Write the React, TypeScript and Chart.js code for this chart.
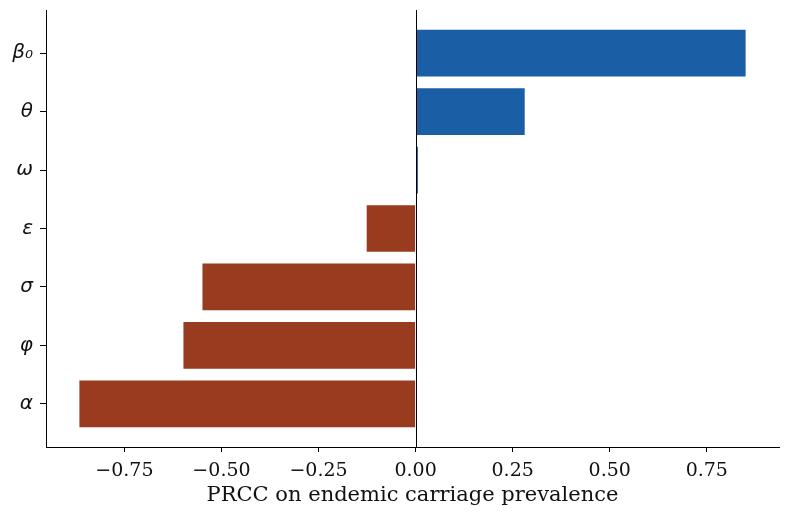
import { Chart, registerables } from "chart.js";
import React, { useRef, useEffect } from "react";

Chart.register(...registerables);

// parameter labels, top to bottom
const paramLabels = ["β₀", "θ", "ω", "ε", "σ", "φ", "α"];
// PRCC values
const prccValues = [0.85, 0.281, 0.006, -0.126, -0.549, -0.598, -0.866];
const xTicks = [-0.75, -0.5, -0.25, 0, 0.25, 0.5, 0.75];

const posColor = "#1a5fa5";
const negColor = "#983b1e";

const fmt = (v: number) => (v < 0 ? "\u2212" + Math.abs(v).toFixed(2) : v.toFixed(2));

// axvline at x = 0
const zeroLine = {
    id: "zeroLine",
    afterDatasetsDraw(chart: Chart) {
        const { ctx, chartArea, scales } = chart;
        const x = Math.round(scales.x.getPixelForValue(0)) + 0.5;
        ctx.save();
        ctx.strokeStyle = "#000";
        ctx.lineWidth = 1;
        ctx.beginPath();
        ctx.moveTo(x, chartArea.top);
        ctx.lineTo(x, chartArea.bottom);
        ctx.stroke();
        ctx.restore();
    },
};

const App: React.FC = () => {
    const canvasRef = useRef<HTMLCanvasElement>(null!);

    useEffect(() => {
        document.body.style.margin = "0";
        const chart = new Chart(canvasRef.current, {
            type: "bar",
            data: {
                datasets: [
                    {
                        data: prccValues.map((v, i) => ({ x: v, y: i })),
                        backgroundColor: prccValues.map((v) => (v >= 0 ? posColor : negColor)),
                        borderWidth: 0,
                        categoryPercentage: 0.8,
                        barPercentage: 1.0,
                    },
                ],
            },
            options: {
                indexAxis: "y",
                animation: false,
                responsive: false,
                maintainAspectRatio: false,
                layout: { padding: { top: 10, right: 10, left: 0, bottom: 0 } },
                plugins: { legend: { display: false }, tooltip: { enabled: false } },
                scales: {
                    x: {
                        type: "linear",
                        min: -0.952,
                        max: 0.936,
                        afterBuildTicks: (axis: any) => {
                            axis.ticks = xTicks.map((value) => ({ value }));
                        },
                        afterFit: (axis: any) => {
                            axis.height = 70;
                            axis.paddingLeft = 0;
                            axis.paddingRight = 0;
                        },
                        grid: {
                            drawOnChartArea: false,
                            drawTicks: true,
                            tickLength: 5,
                            tickColor: "#000",
                            color: "#000",
                        },
                        border: { display: true, color: "#000", width: 1 },
                        ticks: {
                            color: "#111",
                            padding: 8,
                            maxRotation: 0,
                            font: { family: "DejaVu Serif", size: 19 },
                            callback: (v: any) => fmt(Number(v)),
                        },
                        title: {
                            display: true,
                            text: "PRCC on endemic carriage prevalence",
                            color: "#111",
                            font: { family: "DejaVu Serif", size: 21 },
                            padding: { top: 0, bottom: 9 },
                        },
                    },
                    y: {
                        type: "linear",
                        reverse: true,
                        offset: false,
                        min: -0.74,
                        max: 6.74,
                        afterBuildTicks: (axis: any) => {
                            axis.ticks = paramLabels.map((_, i) => ({ value: i }));
                        },
                        afterFit: (axis: any) => {
                            axis.width = 46;
                            axis.paddingTop = 0;
                            axis.paddingBottom = 0;
                        },
                        grid: {
                            offset: false,
                            drawOnChartArea: false,
                            drawTicks: true,
                            tickLength: 6,
                            tickColor: "#000",
                            color: "#000",
                        },
                        border: { display: true, color: "#000", width: 1 },
                        ticks: {
                            color: "#111",
                            padding: 7,
                            font: { family: "DejaVu Sans", size: 20, style: "italic" },
                            callback: (v: any) => paramLabels[Number(v)] ?? "",
                        },
                    },
                },
            },
            plugins: [zeroLine],
        });
        return () => chart.destroy();
    }, []);

    return (
        <div style={{ position: "fixed", left: 0, top: 0, width: 789, height: 517, background: "#fff" }}>
            <canvas ref={canvasRef} width={789} height={517} style={{ width: 789, height: 517 }}></canvas>
        </div>
    );
};

export default App;
